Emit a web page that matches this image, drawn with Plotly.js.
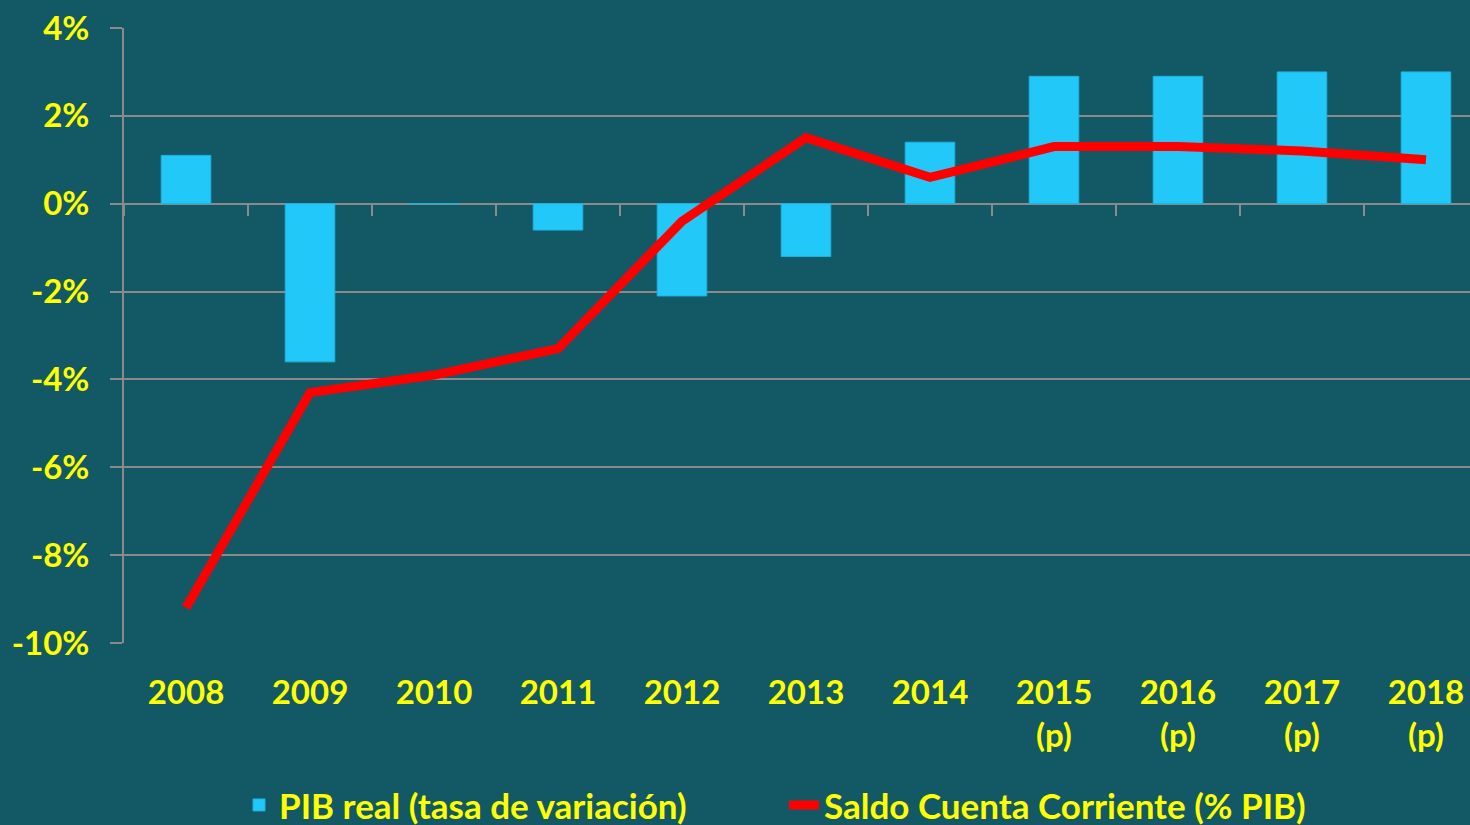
<!DOCTYPE html>
<html><head><meta charset="utf-8">
<script src="https://cdn.plot.ly/plotly-3.0.1.min.js"></script>
<style>html,body{margin:0;padding:0;background:#125865;overflow:hidden;}#chart{width:1470px;height:825px;}</style>
</head><body><div id="chart"></div>
<script>
const categories = ["2008","2009","2010","2011","2012","2013","2014","2015<br>(p)","2016<br>(p)","2017<br>(p)","2018<br>(p)"];
const pibReal = [1.1,-3.6,0,-0.6,-2.1,-1.2,1.4,2.9,2.9,3.0,3.0];
const saldoCC = [-9.2,-4.3,-3.9,-3.3,-0.4,1.5,0.6,1.3,1.3,1.2,1.0];
const yTickVals = [-10,-8,-6,-4,-2,0,2,4];
const yTickText = ["-10%","-8%","-6%","-4%","-2%","0%","2%","4%"];
const seriesNames = ["PIB real (tasa de variación)","Saldo Cuenta Corriente (% PIB)"];

const grid = '#8a8a8a';
const yellow = '#FFFF00';
const font = {family:'Lato, "Open Sans", sans-serif', size:33, color:yellow, weight:700};
const legendFont = {family:'Lato, "Open Sans", sans-serif', size:35, color:yellow, weight:700};

const traces = [
  {type:'bar', x:categories, y:pibReal, name:seriesNames[0], width:0.4,
   marker:{color:'#22C8F8', line:{color:'#1DB3DE', width:1}}},
  {type:'scatter', mode:'lines', x:categories, y:saldoCC, name:seriesNames[1],
   line:{color:'#FF0000', width:9, shape:'linear'}},
  {type:'scatter', mode:'lines', x:[], y:[], xaxis:'x2', yaxis:'y', showlegend:false, hoverinfo:'skip'}
];

const layout = {
  width:1470, height:825,
  paper_bgcolor:'#125865', plot_bgcolor:'#125865',
  margin:{l:124, r:0, t:28, b:182},
  font:font,
  showlegend:true,
  xaxis:{type:'category', range:[-0.5,10.355], showgrid:false, showline:false, zeroline:false,
    ticks:'', tickfont:font, ticklabelstandoff:27, fixedrange:true},
  xaxis2:{overlaying:'x', anchor:'free', position:10/14, type:'linear', range:[-0.5,10.355],
    tick0:0.5, dtick:1, tickmode:'linear', ticks:'outside', ticklen:11, tickwidth:2, tickcolor:grid,
    showticklabels:false, showgrid:false, showline:false, zeroline:false},
  yaxis:{range:[-10,4], tickmode:'array', tickvals:yTickVals, ticktext:yTickText,
    showgrid:true, gridcolor:grid, gridwidth:2, showline:true, linecolor:grid, linewidth:2,
    ticks:'outside', ticklen:12, tickwidth:2, tickcolor:grid, zeroline:false,
    tickfont:font, ticklabelstandoff:14},
  legend:{orientation:'h', xref:'container', yref:'container', x:0.1626, xanchor:'left',
    y:0.024, yanchor:'middle', font:legendFont, bgcolor:'rgba(0,0,0,0)', traceorder:'normal',
    entrywidth:500, entrywidthmode:'pixels'}
};

Plotly.newPlot('chart', traces, layout, {displayModeBar:false, staticPlot:true});
</script></body></html>
